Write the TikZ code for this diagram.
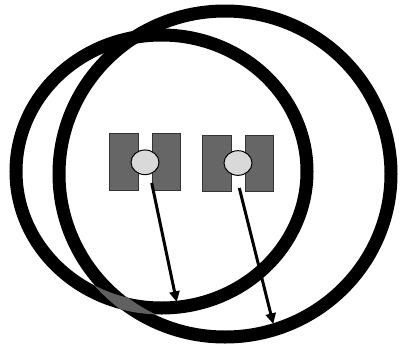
\documentclass[tikz,border=0pt]{standalone}
\usetikzlibrary{arrows.meta,shapes.geometric}
\definecolor{boxgray}{HTML}{666666}
\definecolor{ballgray}{HTML}{D9D9D9}
\definecolor{patchgray}{HTML}{606060}
\tikzset{
  ring/.style={draw=black,line width=9.75pt},
  plate/.style={draw=black!80,line width=0.75pt,fill=boxgray,minimum width=21.5pt,minimum height=42.5pt,inner sep=0pt},
  ball/.style={ellipse,draw=black,line width=0.75pt,fill=ballgray,minimum width=21pt,minimum height=18.5pt,inner sep=0pt},
  beam/.style={line width=2.25pt,-{Triangle[length=8pt,width=7.5pt]}}
}
\begin{document}
\begin{tikzpicture}[x=0.75pt,y=-0.75pt]
\useasboundingbox (0,0) rectangle (400,347);
% rings
\draw[ring] (225,174) ellipse [x radius=166, y radius=163];
\draw[ring] (161.5,171.5) ellipse [x radius=145.5, y radius=136.5];
% gray patch where the two rings cross at bottom left
\begin{scope}[even odd rule]
  \clip (85,270) rectangle (170,325);
  \clip (161.5,171.5) ellipse [x radius=152, y radius=143]
        (161.5,171.5) ellipse [x radius=139, y radius=130];
  \fill[patchgray] (225,174) ellipse [x radius=173, y radius=170]
                   (225,174) ellipse [x radius=159, y radius=156];
\end{scope}
% left unit
\node[plate] (p1) at (123.8,162.3) {};
\node[plate] (p2) at (166.5,162.3) {};
\node[ball]  (b1) at (145,162.3) {};
% right unit
\node[plate] (p3) at (216.8,163.5) {};
\node[plate] (p4) at (259.6,163.5) {};
\node[ball]  (b2) at (238,163) {};
% arrow ends
\coordinate (s1) at (151.7,183);
\coordinate (e1) at (176.7,302);
\coordinate (s2) at (239.3,188);
\coordinate (e2) at (273.3,324);
\draw[beam] (s1) -- (e1);
\draw[beam] (s2) -- (e2);
\end{tikzpicture}
\end{document}
